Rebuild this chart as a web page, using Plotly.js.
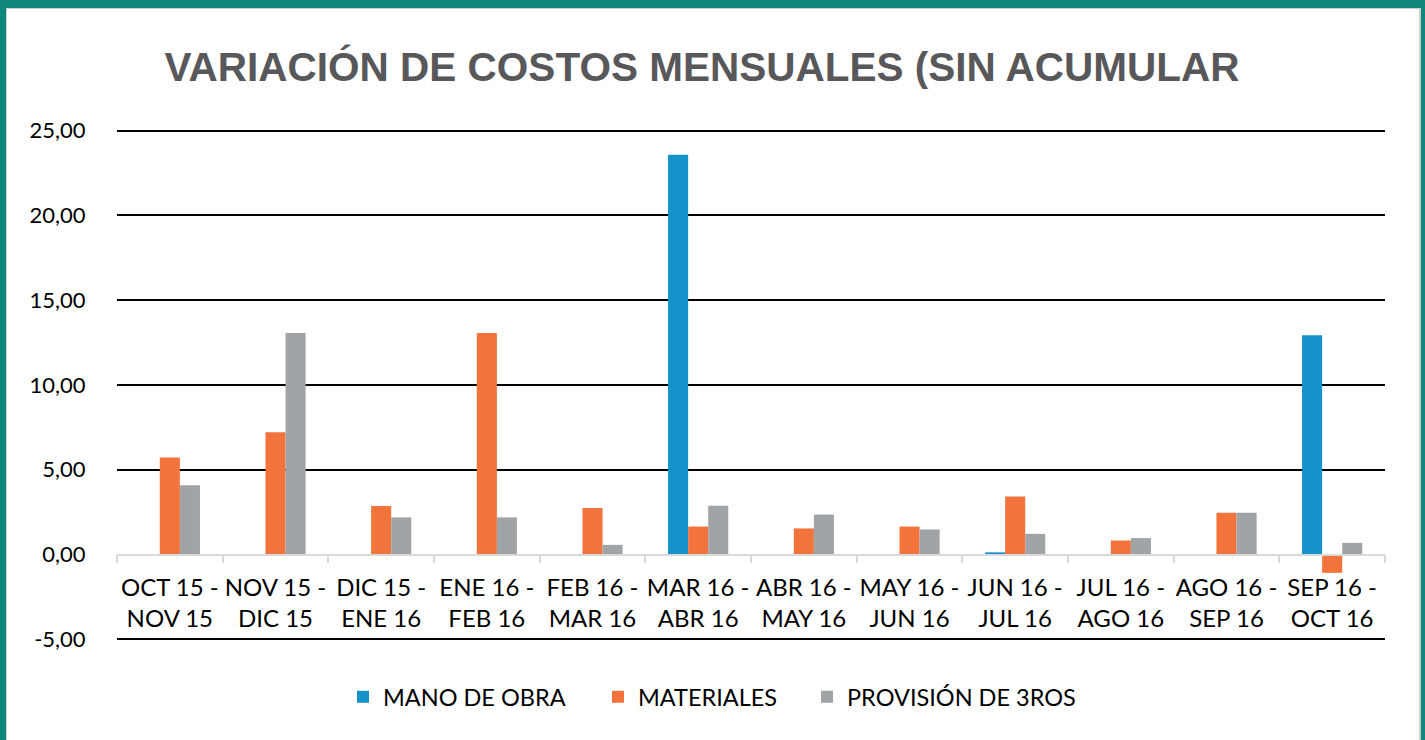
<!DOCTYPE html>
<html>
<head>
<meta charset="utf-8">
<script src="https://cdn.plot.ly/plotly-3.0.1.min.js"></script>
<style>
  html, body { margin: 0; padding: 0; background: #fff; }
  #wrap { position: relative; width: 1425px; height: 740px; }
  #chart { position: absolute; left: 0; top: 0; width: 1425px; height: 740px; }
  #frame { position: absolute; left: 0; top: 0; width: 1425px; height: 740px; box-sizing: border-box;
           border-top: 8px solid #0F877A; border-left: 6px solid #0F877A; border-right: 4px solid #0F877A;
           pointer-events: none; }
  #inner { position: absolute; left: 6px; top: 8px; right: 4px; bottom: 0; border-top: 1px solid #cfcfcf;
           border-left: 1px solid #cfcfcf; border-right: 2px solid #cfcfcf; pointer-events: none; }
</style>
</head>
<body>
<div id="wrap">
  <div id="chart"></div>
  <div id="frame"></div>
  <div id="inner"></div>
</div>
<script>
const categories = [
  "OCT 15 -<br>NOV 15", "NOV 15 -<br>DIC 15", "DIC 15 -<br>ENE 16", "ENE 16 -<br>FEB 16",
  "FEB 16 -<br>MAR 16", "MAR 16 -<br>ABR 16", "ABR 16 -<br>MAY 16", "MAY 16 -<br>JUN 16",
  "JUN 16 -<br>JUL 16", "JUL 16 -<br>AGO 16", "AGO 16 -<br>SEP 16", "SEP 16 -<br>OCT 16"
];
const manoDeObra = [0, 0, 0, 0, 0, 23.58, 0, 0, 0.13, 0, 0, 12.94];
const materiales = [5.72, 7.21, 2.86, 13.06, 2.74, 1.65, 1.54, 1.65, 3.43, 0.83, 2.46, -1.08];
const provision3ros = [4.08, 13.06, 2.19, 2.19, 0.57, 2.88, 2.36, 1.48, 1.22, 0.97, 2.46, 0.69];
const seriesNames = ["MANO DE OBRA", "MATERIALES", "PROVISIÓN DE 3ROS"];
const yTicks = [-5, 0, 5, 10, 15, 20, 25];
const yTickText = yTicks.map(v => v.toFixed(2).replace(".", ","));

const colors = ["#1592CA", "#F2733C", "#A0A4A6"];
const font = "Lato, 'Open Sans', sans-serif";
const legendIds = ["legend", "legend2", "legend3"];
const legendLeft = [343, 598, 807];

const traces = [manoDeObra, materiales, provision3ros].map((vals, i) => ({
  type: "bar",
  x: categories,
  y: vals,
  name: seriesNames[i],
  legend: legendIds[i],
  marker: { color: colors[i] },
  hoverinfo: "y+name"
}));

const yMin = -5.1, yMax = 25.1;

function legendCfg(i) {
  return {
    orientation: "h",
    x: legendLeft[i] / 1425, xref: "container", xanchor: "left",
    y: 1 - 697 / 740, yref: "container", yanchor: "middle",
    font: { family: font, size: 23.5, color: "#000" },
    bgcolor: "rgba(0,0,0,0)",
    itemclick: false
  };
}

const layout = {
  width: 1425,
  height: 740,
  paper_bgcolor: "#fff",
  plot_bgcolor: "#fff",
  separators: ",.",
  margin: { l: 117, r: 40, t: 129, b: 99, pad: 0 },
  title: {
    text: "VARIACIÓN DE COSTOS MENSUALES (SIN ACUMULAR",
    font: { family: "'Liberation Sans', Arial, sans-serif", size: 40.5, color: "#58585A", weight: "bold" },
    x: 702 / 1425, xref: "container", xanchor: "center",
    y: 1 - 67 / 740, yref: "container", yanchor: "middle"
  },
  barmode: "group",
  bargap: 0.43,
  bargroupgap: 0,
  xaxis: {
    type: "category",
    anchor: "free",
    position: (0 - yMin) / (yMax - yMin),
    showline: true,
    linecolor: "#D9D9D9",
    linewidth: 1.5,
    ticks: "outside",
    tickson: "boundaries",
    ticklen: 8,
    tickcolor: "#D9D9D9",
    tickwidth: 1.5,
    tickangle: 0,
    ticklabelstandoff: 12,
    showgrid: false,
    tickfont: { family: font, size: 24, color: "#000" },
    automargin: false
  },
  yaxis: {
    range: [yMin, yMax],
    tickvals: yTicks,
    ticktext: yTickText,
    showgrid: true,
    gridcolor: "#000",
    gridwidth: 1.5,
    zeroline: true,
    zerolinecolor: "#D9D9D9",
    zerolinewidth: 1.5,
    showline: false,
    ticks: "outside",
    ticklen: 26,
    tickcolor: "rgba(0,0,0,0)",
    tickfont: { family: font, size: 22, color: "#000" },
    automargin: false
  },
  showlegend: true,
  legend: legendCfg(0),
  legend2: legendCfg(1),
  legend3: legendCfg(2)
};

Plotly.newPlot("chart", traces, layout, { displayModeBar: false });
</script>
</body>
</html>
